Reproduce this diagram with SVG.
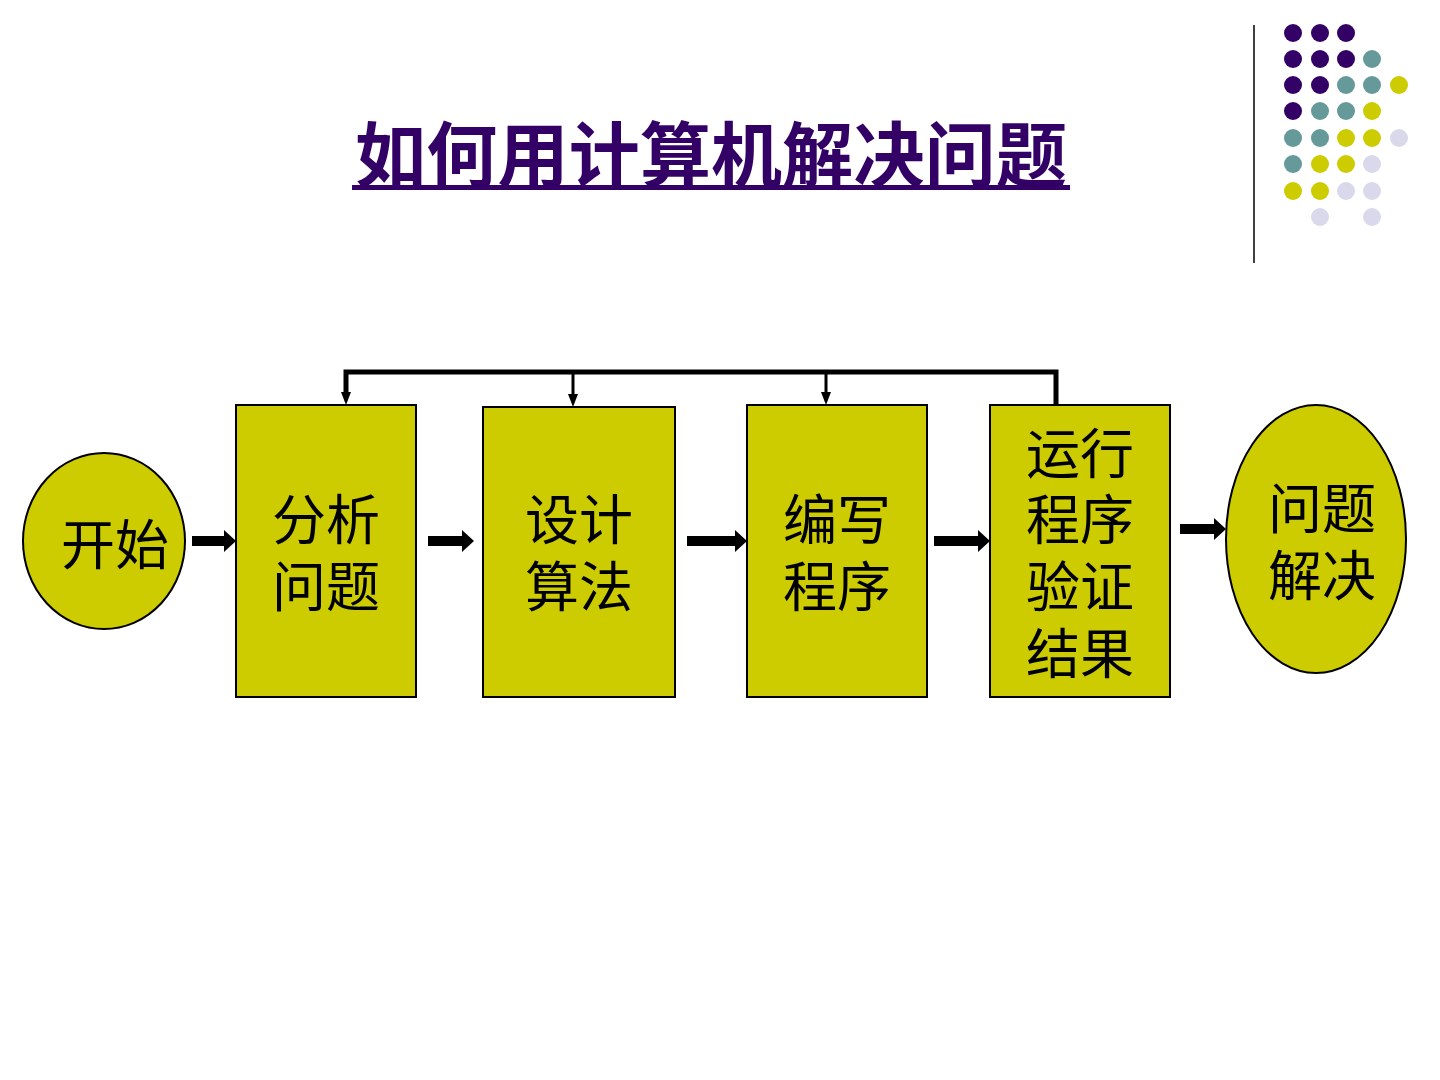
<svg xmlns="http://www.w3.org/2000/svg" width="1440" height="1080" viewBox="0 0 1440 1080">
<style>
.node{fill:#CCCC00;stroke:#000;stroke-width:2}
.lbl{font-family:"Noto Sans CJK SC","Noto Sans",sans-serif;font-size:54px;fill:#000;text-anchor:middle}
.title{font-family:"Noto Sans CJK SC","Noto Sans",sans-serif;font-size:71px;font-weight:bold;fill:#330066;text-anchor:middle}
.p{fill:#330066}.t{fill:#669999}.y{fill:#CCCC00}.l{fill:#D9D9EB}
.ar{fill:#000}
</style>
<rect width="1440" height="1080" fill="#fff"/>
<line x1="1254" y1="25" x2="1254" y2="263" stroke="#000" stroke-width="1.5"/>
<g id="dots">
<circle class="p" cx="1293" cy="33" r="9"/><circle class="p" cx="1320" cy="33" r="9"/><circle class="p" cx="1346" cy="33" r="9"/>
<circle class="p" cx="1293" cy="59" r="9"/><circle class="p" cx="1320" cy="59" r="9"/><circle class="p" cx="1346" cy="59" r="9"/><circle class="t" cx="1372" cy="59" r="9"/>
<circle class="p" cx="1293" cy="85" r="9"/><circle class="p" cx="1320" cy="85" r="9"/><circle class="t" cx="1346" cy="85" r="9"/><circle class="t" cx="1372" cy="85" r="9"/><circle class="y" cx="1399" cy="85" r="9"/>
<circle class="p" cx="1293" cy="111" r="9"/><circle class="t" cx="1320" cy="111" r="9"/><circle class="t" cx="1346" cy="111" r="9"/><circle class="y" cx="1372" cy="111" r="9"/>
<circle class="t" cx="1293" cy="138" r="9"/><circle class="t" cx="1320" cy="138" r="9"/><circle class="y" cx="1346" cy="138" r="9"/><circle class="y" cx="1372" cy="138" r="9"/><circle class="l" cx="1399" cy="138" r="9"/>
<circle class="t" cx="1293" cy="164" r="9"/><circle class="y" cx="1320" cy="164" r="9"/><circle class="y" cx="1346" cy="164" r="9"/><circle class="l" cx="1372" cy="164" r="9"/>
<circle class="y" cx="1293" cy="191" r="9"/><circle class="y" cx="1320" cy="191" r="9"/><circle class="l" cx="1346" cy="191" r="9"/><circle class="l" cx="1372" cy="191" r="9"/>
<circle class="l" cx="1320" cy="217" r="9"/><circle class="l" cx="1372" cy="217" r="9"/>
</g>
<g id="title">
<text class="title" x="711" y="181" textLength="712" lengthAdjust="spacing">如何用计算机解决问题</text>
<rect x="352" y="185" width="718" height="5" fill="#330066"/>
</g>
<g id="connectors">
<path class="ar" d="M192,536H224V530L236,541L224,552V546H192Z"/>
<path class="ar" d="M428,536H462V530L474,541L462,552V546H428Z"/>
<path class="ar" d="M687,536H735V530L747,541L735,552V546H687Z"/>
<path class="ar" d="M934,536H978V530L990,541L978,552V546H934Z"/>
<path class="ar" d="M1180,524H1214V518L1226,529L1214,540V534H1180Z"/>
<polyline points="1056,405 1056,372 346,372 346,392" fill="none" stroke="#000" stroke-width="5"/>
<line x1="573" y1="372" x2="573" y2="394" stroke="#000" stroke-width="3"/>
<line x1="826" y1="372" x2="826" y2="392" stroke="#000" stroke-width="3"/>
<path class="ar" d="M341,392H351L346,405Z"/>
<path class="ar" d="M568,394H578L573,407Z"/>
<path class="ar" d="M821,392H831L826,405Z"/>
</g>
<g id="start">
<ellipse class="node" cx="104" cy="541" rx="81" ry="88"/>
<text class="lbl" x="115" y="565">开始</text>
</g>
<g id="analyze">
<rect class="node" x="236" y="405" width="180" height="292"/>
<text class="lbl" x="326" y="540">分析</text>
<text class="lbl" x="326" y="607">问题</text>
</g>
<g id="design">
<rect class="node" x="483" y="407" width="192" height="290"/>
<text class="lbl" x="579" y="540">设计</text>
<text class="lbl" x="579" y="607">算法</text>
</g>
<g id="code">
<rect class="node" x="747" y="405" width="180" height="292"/>
<text class="lbl" x="837" y="540">编写</text>
<text class="lbl" x="837" y="607">程序</text>
</g>
<g id="run">
<rect class="node" x="990" y="405" width="180" height="292"/>
<text class="lbl" x="1080" y="474">运行</text>
<text class="lbl" x="1080" y="540">程序</text>
<text class="lbl" x="1080" y="607">验证</text>
<text class="lbl" x="1080" y="674">结果</text>
</g>
<g id="end">
<ellipse class="node" cx="1316" cy="539" rx="90" ry="134"/>
<text class="lbl" x="1322" y="529">问题</text>
<text class="lbl" x="1322" y="596">解决</text>
</g>
</svg>
